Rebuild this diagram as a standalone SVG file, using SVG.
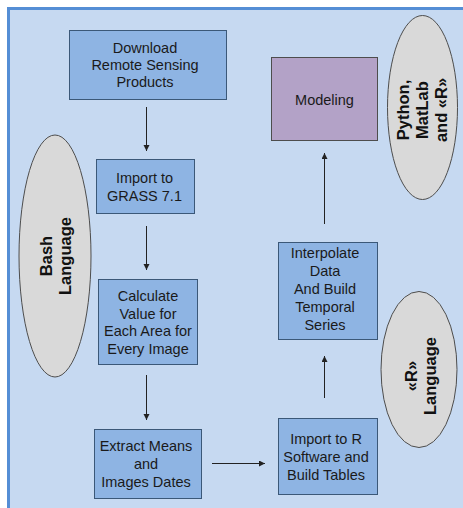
<svg xmlns="http://www.w3.org/2000/svg" width="463" height="508" viewBox="0 0 463 508">
<defs>
<style>
.bg{fill:#c6d9f1;stroke:#558ed5;stroke-width:3}
.box{fill:#8eb4e3;stroke:#3b5878;stroke-width:1}
.mod{fill:#b3a2c7;stroke:#4d4d4d;stroke-width:1}
.ell{fill:#d9d9d9;stroke:#4d4d4d;stroke-width:1}
.t{font-family:"Liberation Sans",Arial,sans-serif;font-size:14.5px;fill:#1a1a1a;text-anchor:middle}
.b{font-family:"Liberation Sans",Arial,sans-serif;font-size:16.5px;font-weight:bold;fill:#111;text-anchor:middle}
.c{stroke:#222;stroke-width:1;fill:none;marker-end:url(#ah)}
</style>
<marker id="ah" markerWidth="8" markerHeight="8" refX="6" refY="3" orient="auto" markerUnits="userSpaceOnUse">
<path d="M0,0 L6,3 L0,6 Z" fill="#222"/>
</marker>
</defs>
<rect class="bg" x="8.5" y="8.5" width="470" height="510"/>

<g id="connectors">
<line class="c" x1="146.5" y1="107" x2="146.5" y2="151"/>
<line class="c" x1="146.5" y1="226" x2="146.5" y2="270"/>
<line class="c" x1="146.5" y1="375" x2="146.5" y2="420"/>
<line class="c" x1="212" y1="463.5" x2="265" y2="463.5"/>
<line class="c" x1="324.5" y1="398" x2="324.5" y2="356"/>
<line class="c" x1="324.5" y1="224" x2="324.5" y2="153"/>
</g>

<g id="download">
<rect class="box" x="69.5" y="30.5" width="157" height="69"/>
<text class="t" x="145" y="53">Download</text>
<text class="t" x="145" y="70">Remote Sensing</text>
<text class="t" x="145" y="87">Products</text>
</g>

<g id="grass">
<rect class="box" x="96.5" y="159.5" width="98" height="54"/>
<text class="t" x="144.5" y="183">Import to</text>
<text class="t" x="144.5" y="201">GRASS 7.1</text>
</g>

<g id="calculate">
<rect class="box" x="98.5" y="279.5" width="99" height="85"/>
<text class="t" x="148" y="301">Calculate</text>
<text class="t" x="148" y="318.5">Value for</text>
<text class="t" x="148" y="336">Each Area for</text>
<text class="t" x="148" y="353.5">Every Image</text>
</g>

<g id="extract">
<rect class="box" x="94.5" y="429.5" width="107" height="69"/>
<text class="t" x="146" y="451">Extract Means</text>
<text class="t" x="146" y="469">and</text>
<text class="t" x="146" y="487">Images Dates</text>
</g>

<g id="importr">
<rect class="box" x="278.5" y="418.5" width="99" height="76"/>
<text class="t" x="326" y="444">Import to R</text>
<text class="t" x="326" y="462">Software and</text>
<text class="t" x="326" y="480">Build Tables</text>
</g>

<g id="interpolate">
<rect class="box" x="278.5" y="242.5" width="99" height="97"/>
<text class="t" x="325" y="258">Interpolate</text>
<text class="t" x="325" y="276">Data</text>
<text class="t" x="325" y="294">And Build</text>
<text class="t" x="325" y="312">Temporal</text>
<text class="t" x="325" y="330">Series</text>
</g>

<g id="modeling">
<rect class="mod" x="271.5" y="57.5" width="106" height="83"/>
<text class="t" x="324.5" y="105">Modeling</text>
</g>

<g id="bash">
<ellipse class="ell" cx="55" cy="256" rx="36" ry="121"/>
<g transform="translate(55,256) rotate(-90)">
<text class="b" x="0" y="-3.5">Bash</text>
<text class="b" x="0" y="15.5">Language</text>
</g>
</g>

<g id="python">
<ellipse class="ell" cx="422.5" cy="107.5" rx="35" ry="92"/>
<g transform="translate(422,110) rotate(-90)">
<text class="b" x="0" y="-13">Python,</text>
<text class="b" x="0" y="6">MatLab</text>
<text class="b" x="0" y="25">and «R»</text>
</g>
</g>

<g id="rlang">
<ellipse class="ell" cx="419" cy="369.5" rx="38" ry="78"/>
<g transform="translate(420,376) rotate(-90)">
<text class="b" x="0" y="-3.5">«R»</text>
<text class="b" x="0" y="15.5">Language</text>
</g>
</g>
</svg>
